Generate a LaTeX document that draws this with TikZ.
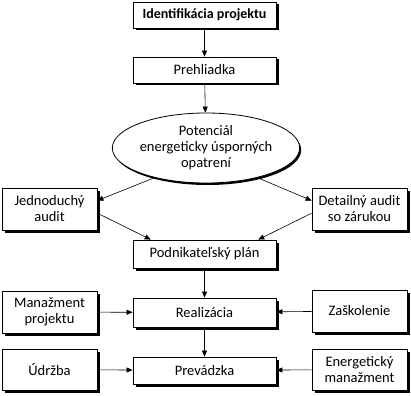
\documentclass[tikz,border=0pt]{standalone}
\usepackage{fontspec}
\setmainfont{Carlito}
\usetikzlibrary{shapes.geometric,shadows,arrows.meta}
\begin{document}
\begin{tikzpicture}[x=1pt,y=-1pt,>={Triangle[length=6pt,width=5pt]},
    font=\fontsize{14.5}{16}\selectfont,
    box/.style={draw,thick,fill=white,align=center,inner sep=0pt,
        drop shadow={shadow xshift=2.5pt,shadow yshift=-2.5pt,opacity=1,fill=black}},
    widebox/.style={box,minimum width=143pt},
    sidebox/.style={box,minimum width=95pt,minimum height=42pt},
    link/.style={->,semithick}]
    \useasboundingbox (0,0) rectangle (411,395);

    % Main chain
    \node[widebox,minimum height=26pt,font=\fontsize{14}{15.5}\selectfont\bfseries] (ident) at (204.5,15) {Identifikácia projektu};
    \node[widebox,minimum height=26pt] (prehl) at (204.5,70) {Prehliadka};
    \node[ellipse,draw,thick,fill=white,align=center,inner sep=0pt,
        minimum width=146pt,minimum height=70pt,
        drop shadow={shadow xshift=1.5pt,shadow yshift=-2pt,opacity=1,fill=black}]
        (potencial) at (206,148) {Potenciál\\energeticky úsporných\\opatrení};

    % Audits
    \node[sidebox] (jedn) at (49.5,209) {Jednoduchý\\audit};
    \node[sidebox] (detail) at (359.5,209) {Detailný audit\\so zárukou};

    \node[widebox,minimum height=28pt] (plan) at (204.5,254) {Podnikateľský plán};

    % Realization
    \node[widebox,minimum height=29pt] (real) at (204.5,312.5) {Realizácia};
    \node[sidebox] (manaz) at (49.5,312) {Manažment\\projektu};
    \node[sidebox] (zask) at (359.5,311) {Zaškolenie};

    % Operation
    \node[widebox,minimum height=27pt] (prev) at (204.5,370.5) {Prevádzka};
    \node[sidebox,minimum height=41pt] (udrz) at (49.5,369.5) {Údržba};
    \node[sidebox,minimum height=41pt] (energ) at (359.5,369.5) {Energetický\\manažment};

    % Arrows
    \draw[link] (ident) -- (prehl);
    \draw[link] (prehl) -- (potencial);
    \draw[link] (potencial.210) -- (jedn.10);
    \draw[link] (potencial.330) -- (detail.170);
    \draw[link] (jedn.-5) -- (plan.165);
    \draw[link] (detail.185) -- (plan.15);
    \draw[link] (plan) -- (real);
    \draw[link] (real) -- (prev);
    \draw[link] (manaz) -- (real);
    \draw[link] (zask) -- (real);
    \draw[link] (udrz) -- (prev);
    \draw[link] (energ) -- (prev);
\end{tikzpicture}
\end{document}
